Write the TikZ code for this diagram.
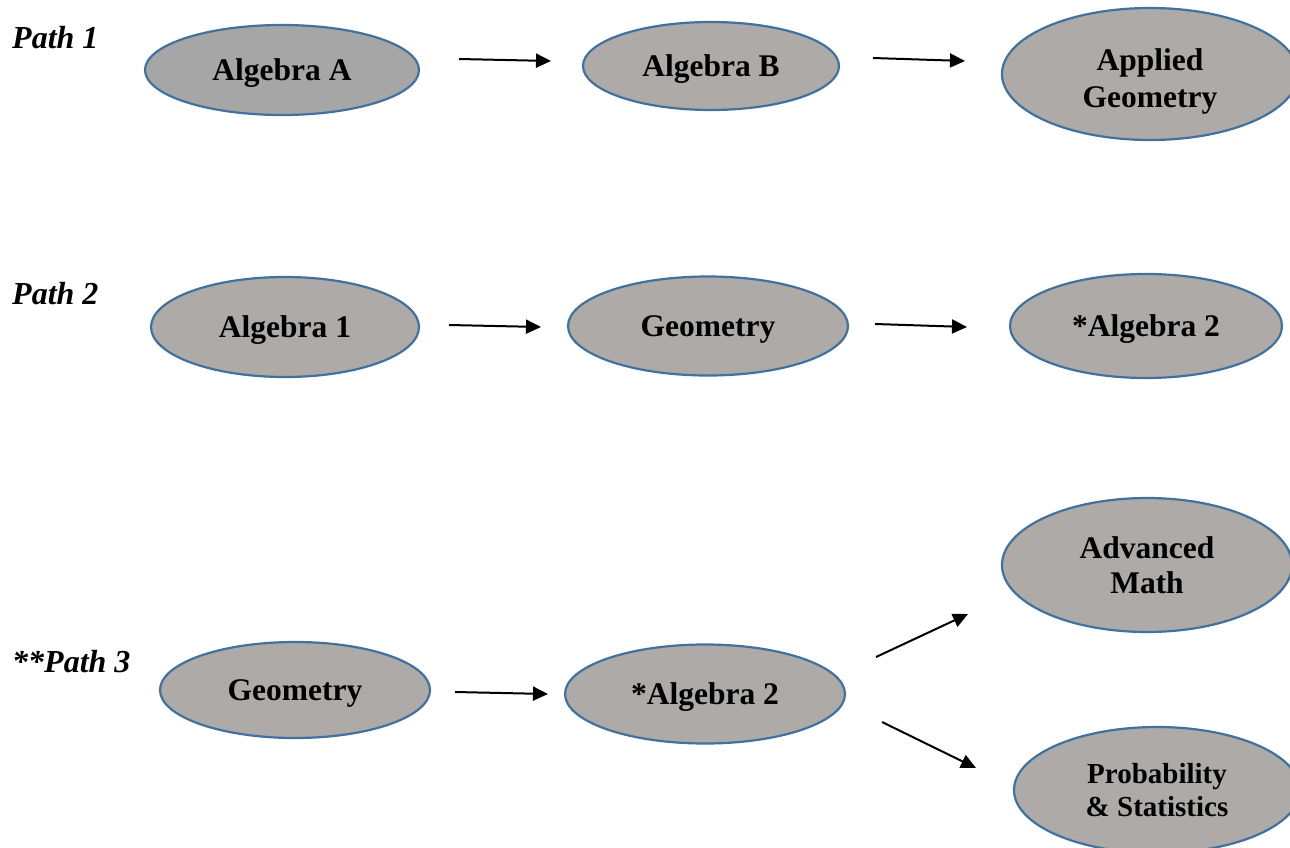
\documentclass[tikz,border=0pt]{standalone}
\usepackage{fontspec}
\setmainfont{Liberation Serif}
\usetikzlibrary{shapes.geometric,arrows.meta}
\definecolor{edgeblue}{HTML}{41719C}
\definecolor{nodegray}{HTML}{ADAAA7}
\definecolor{darkgray}{HTML}{A6A6A6}
\tikzset{
  course/.style={ellipse, draw=edgeblue, line width=2.2pt, fill=nodegray, inner sep=0pt,
    align=center, font=\fontsize{31.5}{35}\selectfont\bfseries},
  oneline/.style={text height=22pt, text depth=1pt},
  coursetext/.style={inner sep=0pt, align=center,
    font=\fontsize{31.5}{37}\selectfont\bfseries},
  pathlabel/.style={anchor=west, inner sep=0pt, font=\fontsize{32}{35}\selectfont\bfseries\itshape},
  arr/.style={line width=2pt, -{Triangle[length=15pt,width=14pt]}}
}
\begin{document}
\begin{tikzpicture}[x=1pt,y=-1pt]
\clip (0,0) rectangle (1290,848);
\fill[white] (0,0) rectangle (1290,848);
% labels
\node[pathlabel] (p1) at (12,38) {Path 1};
\node[pathlabel] (p2) at (12,294) {Path 2};
\node[pathlabel] (p3) at (12,662) {**Path 3};
% path 1
\node[course, oneline, fill=darkgray, minimum width=274pt, minimum height=90pt] (algA) at (282,70) {Algebra A};
\node[course, oneline, minimum width=256pt, minimum height=88pt] (algB) at (711,66) {Algebra B};
\node[course, minimum width=296pt, minimum height=132pt] (appG) at (1150,74) {};
\node[coursetext] (appGt) at (1150,81) {Applied\\Geometry};
% path 2
\node[course, oneline, minimum width=268pt, minimum height=100pt] (alg1) at (285,327) {Algebra 1};
\node[course, oneline, minimum width=280pt, minimum height=99pt] (geo2) at (708,326) {Geometry};
\node[course, oneline, minimum width=272pt, minimum height=104pt] (alg2b) at (1146,326) {*Algebra 2};
% path 3
\node[course, minimum width=290pt, minimum height=134pt] (adv) at (1147,565) {Advanced\\Math};
\node[course, oneline, minimum width=270pt, minimum height=96pt] (geo3) at (295,690) {Geometry};
\node[course, oneline, minimum width=280pt, minimum height=99pt] (alg2c) at (705,694) {*Algebra 2};
\node[course, font=\fontsize{29}{33}\selectfont\bfseries, minimum width=286pt, minimum height=126pt] (prob) at (1157,790) {Probability\\\& Statistics};
% arrow endpoints
\coordinate (a1s) at (459,59);  \coordinate (a1e) at (551,61);
\coordinate (a2s) at (873,58);  \coordinate (a2e) at (965,61);
\coordinate (b1s) at (449,325); \coordinate (b1e) at (541,327);
\coordinate (b2s) at (875,324); \coordinate (b2e) at (967,327);
\coordinate (c1s) at (455,692); \coordinate (c1e) at (548,694);
\coordinate (c2s) at (876,657); \coordinate (c2e) at (968,614);
\coordinate (c3s) at (882,722); \coordinate (c3e) at (976,768);
\draw[arr] (a1s) -- (a1e);
\draw[arr] (a2s) -- (a2e);
\draw[arr] (b1s) -- (b1e);
\draw[arr] (b2s) -- (b2e);
\draw[arr] (c1s) -- (c1e);
\draw[arr] (c2s) -- (c2e);
\draw[arr] (c3s) -- (c3e);
\end{tikzpicture}
\end{document}
